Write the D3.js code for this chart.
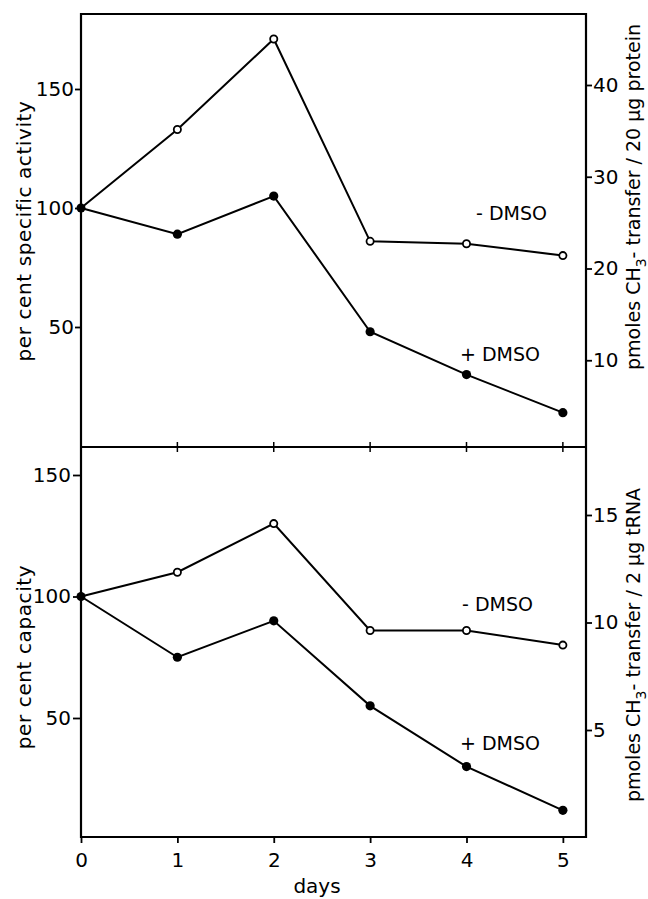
<!DOCTYPE html>
<html>
<head>
<meta charset="utf-8">
<script src="https://cdn.jsdelivr.net/npm/d3@7"></script>
<style>
  body { margin: 0; background: #fff; }
  text { font-family: "DejaVu Sans", sans-serif; fill: #000; }
</style>
</head>
<body>
<div class="chart"></div>
<script>
// data
const days = [0, 1, 2, 3, 4, 5];
const activityMinus = [100, 133, 171, 86, 85, 80];   // - DMSO, open
const activityPlus = [100, 89, 105, 48, 30, 14];     // + DMSO, filled
const capacityMinus = [100, 110, 130, 86, 86, 80];
const capacityPlus = [100, 75, 90, 55, 30, 12];
const percentTicks = [50, 100, 150];
const proteinTicks = [10, 20, 30, 40];
const trnaTicks = [5, 10, 15];

const w = 648;
const h = 899;
const left = 81, right = 586;
const top1 = 14, mid = 447, bottom = 837;

let svg = d3.select(".chart").append("svg")
  .attr("width", w)
  .attr("height", h);

const x = d3.scaleLinear().domain([0, 5.24]).range([left, right]);

const yAct = d3.scaleLinear().domain([0, 150]).range([446, 89]);
const yProt = d3.scaleLinear().domain([0, 40]).range([452, 85]);
const yCap = d3.scaleLinear().domain([0, 150]).range([839.5, 475]);
const yRna = d3.scaleLinear().domain([0, 15]).range([837.5, 515]);

// frames
svg.append("path")
  .attr("d", `M${left},${top1}H${right}V${bottom}H${left}Z M${left},${mid}H${right}`)
  .attr("fill", "none")
  .attr("stroke", "#000")
  .attr("stroke-width", 2.2);

// small ticks on the divider
svg.append("g").selectAll("line")
  .data(days.slice(1))
  .enter().append("line")
  .attr("x1", d => x(d)).attr("x2", d => x(d))
  .attr("y1", mid - 5).attr("y2", mid + 5)
  .attr("stroke", "#000").attr("stroke-width", 1.5);

function styleAxis(g) {
  g.select(".domain").remove();
  g.selectAll(".tick line").attr("stroke-width", 1.8);
  g.selectAll(".tick text").style("font-size", "20px").attr("fill", "#000");
}

svg.append("g")
  .attr("transform", `translate(0,${bottom})`)
  .call(d3.axisBottom(x).tickValues(days).tickSize(6).tickPadding(10).tickFormat(d3.format("d")))
  .call(styleAxis);

svg.append("g")
  .attr("transform", `translate(${left},0)`)
  .call(d3.axisLeft(yAct).tickValues(percentTicks).tickSize(6).tickPadding(1))
  .call(styleAxis);

svg.append("g")
  .attr("transform", `translate(${left},0)`)
  .call(d3.axisLeft(yCap).tickValues(percentTicks).tickSize(8).tickPadding(2))
  .call(styleAxis);

svg.append("g")
  .attr("transform", `translate(${right},0)`)
  .call(d3.axisRight(yProt).tickValues(proteinTicks).tickSize(6).tickPadding(1))
  .call(styleAxis);

svg.append("g")
  .attr("transform", `translate(${right},0)`)
  .call(d3.axisRight(yRna).tickValues(trnaTicks).tickSize(6).tickPadding(1))
  .call(styleAxis);

// series
function drawSeries(values, y, filled) {
  let line = d3.line().x((d, i) => x(days[i])).y(d => y(d));
  svg.append("path")
    .attr("d", line(values))
    .attr("fill", "none")
    .attr("stroke", "#000")
    .attr("stroke-width", 2);
  svg.append("g").selectAll("circle")
    .data(values.slice(1))
    .enter().append("circle")
    .attr("cx", (d, i) => x(days[i + 1]))
    .attr("cy", d => y(d))
    .attr("r", filled ? 4.6 : 3.6)
    .attr("fill", filled ? "#000" : "#fff")
    .attr("stroke", "#000")
    .attr("stroke-width", filled ? 0 : 1.8);
}

drawSeries(activityMinus, yAct, false);
drawSeries(activityPlus, yAct, true);
drawSeries(capacityMinus, yCap, false);
drawSeries(capacityPlus, yCap, true);

// start point shared by both series
[[yAct, 100], [yCap, 100]].forEach(([y, v]) => {
  svg.append("circle").attr("cx", x(0)).attr("cy", y(v)).attr("r", 4.5).attr("fill", "#000");
});

// series labels
function label(txt, xx, yy) {
  svg.append("text").attr("x", xx).attr("y", yy)
    .style("font-size", "19px")
    .text(txt);
}
label("- DMSO", 476, 220);
label("+ DMSO", 460, 361);
label("- DMSO", 462, 611);
label("+ DMSO", 460, 750);

// axis titles
svg.append("text")
  .attr("transform", "translate(31,231) rotate(-90)")
  .attr("text-anchor", "middle")
  .style("font-size", "20px")
  .style("letter-spacing", "0.6px")
  .text("per cent  specific  activity");

svg.append("text")
  .attr("transform", "translate(31,657) rotate(-90)")
  .attr("text-anchor", "middle")
  .style("font-size", "20px")
  .style("letter-spacing", "0.6px")
  .text("per cent  capacity");

function rightTitle(cy, tail) {
  let t = svg.append("text")
    .attr("transform", `translate(640,${cy}) rotate(-90)`)
    .attr("text-anchor", "middle")
    .style("font-size", "19px");
  t.append("tspan").text("pmoles CH");
  t.append("tspan").attr("dy", 6).style("font-size", "14px").text("3");
  t.append("tspan").attr("dy", -6).text(tail);
}
rightTitle(197, "- transfer / 20 \u03bcg protein");
rightTitle(645, "- transfer / 2 \u03bcg tRNA");

svg.append("text")
  .attr("x", 317)
  .attr("y", 893)
  .attr("text-anchor", "middle")
  .style("font-size", "20px")
  .text("days");
</script>
</body>
</html>
